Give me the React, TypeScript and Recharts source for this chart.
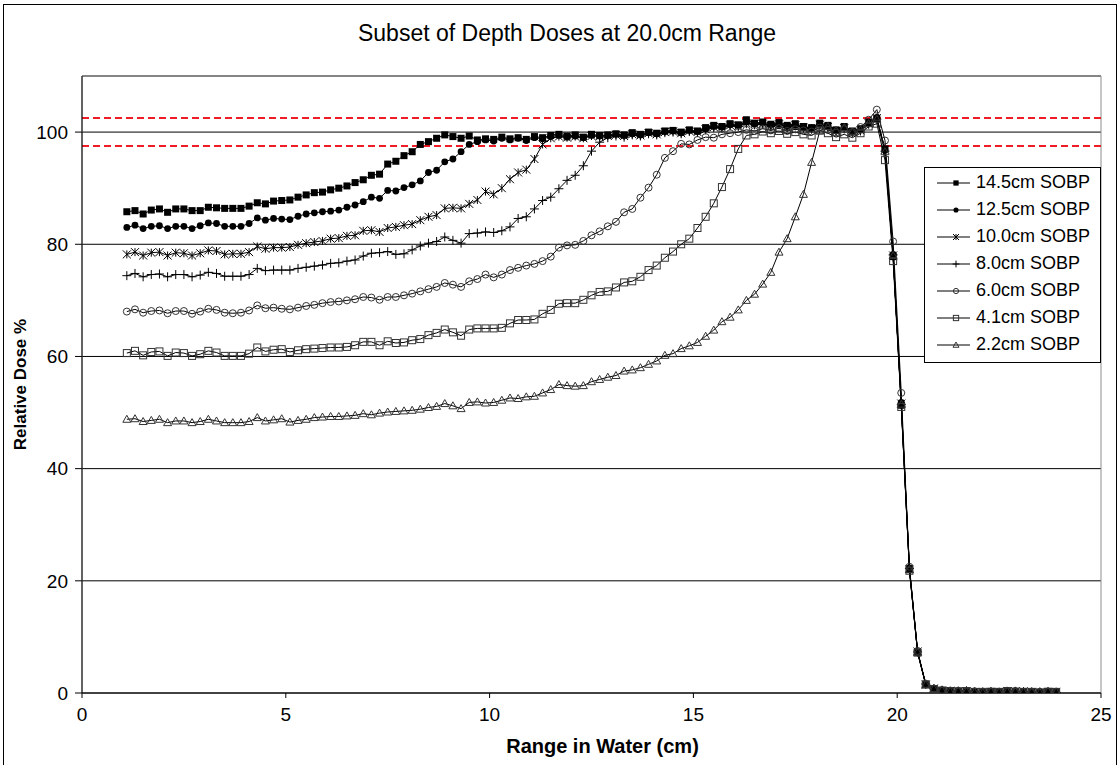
import React from 'react';
import { LineChart, Line, XAxis, YAxis, CartesianGrid, ReferenceLine, ReferenceArea } from 'recharts';

// depth in water (cm), shared by every curve
const depth = [
  1.1, 1.3, 1.5, 1.7, 1.9, 2.1, 2.3, 2.5, 2.7, 2.9,
  3.1, 3.3, 3.5, 3.7, 3.9, 4.1, 4.3, 4.5, 4.7, 4.9,
  5.1, 5.3, 5.5, 5.7, 5.9, 6.1, 6.3, 6.5, 6.7, 6.9,
  7.1, 7.3, 7.5, 7.7, 7.9, 8.1, 8.3, 8.5, 8.7, 8.9,
  9.1, 9.3, 9.5, 9.7, 9.9, 10.1, 10.3, 10.5, 10.7, 10.9,
  11.1, 11.3, 11.5, 11.7, 11.9, 12.1, 12.3, 12.5, 12.7, 12.9,
  13.1, 13.3, 13.5, 13.7, 13.9, 14.1, 14.3, 14.5, 14.7, 14.9,
  15.1, 15.3, 15.5, 15.7, 15.9, 16.1, 16.3, 16.5, 16.7, 16.9,
  17.1, 17.3, 17.5, 17.7, 17.9, 18.1, 18.3, 18.5, 18.7, 18.9,
  19.1, 19.3, 19.5, 19.7, 19.9, 20.1, 20.3, 20.5, 20.7, 20.9,
  21.1, 21.3, 21.5, 21.7, 21.9, 22.1, 22.3, 22.5, 22.7, 22.9,
  23.1, 23.3, 23.5, 23.7, 23.9,
];

const sobp145 = [
  85.8, 86.0, 85.4, 86.1, 86.3, 85.7, 86.3, 86.3, 86.0, 86.0,
  86.6, 86.5, 86.4, 86.4, 86.4, 86.8, 87.4, 87.2, 87.7, 87.8,
  87.9, 88.4, 88.8, 89.2, 89.3, 89.7, 90.0, 90.4, 91.0, 91.5,
  92.3, 92.5, 94.3, 94.8, 95.8, 96.5, 97.8, 98.3, 98.9, 99.5,
  99.2, 98.9, 99.3, 98.6, 98.8, 98.7, 99.1, 98.8, 99.0, 98.7,
  99.2, 99.0, 99.4, 99.6, 99.3, 99.5, 99.1, 99.6, 99.4, 99.5,
  99.7, 99.5, 99.9, 99.6, 100.0, 99.8, 100.2, 100.3, 100.0, 100.4,
  100.2, 100.8, 101.2, 101.0, 101.5, 101.3, 102.2, 101.6, 101.8, 101.4,
  101.7, 101.2, 101.5, 101.0, 100.8, 101.6, 101.2, 100.4, 101.0, 100.2,
  100.6, 101.8, 102.4, 97.0, 77.8, 51.3, 22.0, 7.3, 1.6, 0.8,
  0.5, 0.4, 0.3, 0.4, 0.2, 0.1, 0.3, 0.2, 0.4, 0.3,
  0.2, 0.2, 0.1, 0.3, 0.2,
];

const sobp125 = [
  83.0, 83.4, 82.8, 83.2, 83.3, 82.8, 83.2, 83.2, 82.8, 83.3,
  83.8, 83.7, 83.2, 83.2, 83.2, 83.7, 84.7, 84.3, 84.6, 84.5,
  84.4, 85.0, 85.4, 85.6, 85.8, 85.9, 86.1, 86.6, 87.0, 87.6,
  88.4, 88.2, 89.6, 89.5, 90.1, 90.6, 91.3, 92.8, 93.2, 94.7,
  95.2, 96.5, 97.8, 98.3, 98.6, 98.4, 98.9, 98.6, 98.9, 98.5,
  99.0, 98.8, 99.2, 99.4, 99.1, 99.3, 99.0, 99.4, 99.3, 99.4,
  99.6, 99.4, 99.7, 99.5, 99.9, 99.7, 100.1, 100.2, 99.9, 100.3,
  100.1, 100.6, 101.0, 100.9, 101.3, 101.2, 101.8, 101.5, 101.6, 101.2,
  101.5, 101.0, 101.3, 100.9, 100.7, 101.4, 101.0, 100.3, 100.8, 100.1,
  100.4, 101.6, 102.6, 96.8, 78.2, 51.8, 22.3, 7.2, 1.5, 0.7,
  0.5, 0.3, 0.4, 0.3, 0.2, 0.2, 0.3, 0.1, 0.3, 0.4,
  0.2, 0.1, 0.2, 0.3, 0.2,
];

const sobp100 = [
  78.2, 78.6, 78.0, 78.5, 78.6, 78.0, 78.5, 78.4, 78.0, 78.4,
  78.9, 78.8, 78.2, 78.3, 78.3, 78.6, 79.6, 79.2, 79.4, 79.4,
  79.5, 79.9, 80.2, 80.4, 80.6, 81.0, 81.1, 81.5, 81.6, 82.4,
  82.5, 82.2, 82.9, 83.1, 83.4, 83.6, 84.3, 84.9, 85.2, 86.4,
  86.5, 86.4, 87.2, 87.9, 89.4, 88.9, 90.0, 91.6, 92.8, 93.3,
  95.2, 97.8, 98.9, 99.2, 99.0, 99.2, 98.9, 99.3, 99.2, 99.3,
  99.5, 99.3, 99.6, 99.4, 99.8, 99.6, 100.0, 100.1, 99.8, 100.2,
  100.0, 100.5, 100.9, 100.8, 101.2, 101.1, 101.6, 101.4, 101.5, 101.1,
  101.4, 100.9, 101.2, 100.8, 100.6, 101.3, 100.9, 100.2, 100.7, 100.0,
  100.3, 101.5, 102.5, 96.9, 78.0, 51.6, 22.1, 7.4, 1.5, 0.8,
  0.4, 0.4, 0.3, 0.3, 0.2, 0.1, 0.2, 0.2, 0.3, 0.3,
  0.3, 0.2, 0.1, 0.2, 0.2,
];

const sobp80 = [
  74.4, 74.8, 74.2, 74.6, 74.7, 74.2, 74.6, 74.6, 74.2, 74.5,
  75.0, 74.8, 74.3, 74.3, 74.3, 74.6, 75.7, 75.3, 75.4, 75.4,
  75.4, 75.7, 75.9, 76.1, 76.3, 76.6, 76.7, 77.0, 77.2, 77.9,
  78.4, 78.5, 78.7, 78.2, 78.3, 79.0, 79.7, 80.2, 80.5, 81.3,
  80.7, 80.2, 81.9, 82.0, 82.2, 82.1, 82.4, 83.1, 84.6, 84.9,
  86.3, 87.8, 88.4, 89.9, 91.4, 92.3, 94.0, 96.6, 98.2, 99.0,
  99.3, 99.1, 99.5, 99.3, 99.7, 99.5, 99.9, 100.0, 99.7, 100.1,
  99.9, 100.4, 100.8, 100.7, 101.1, 101.0, 101.5, 101.3, 101.4, 101.0,
  101.3, 100.8, 101.1, 100.7, 100.5, 101.2, 100.8, 100.1, 100.6, 99.9,
  100.2, 101.4, 102.3, 96.6, 78.1, 51.4, 22.2, 7.3, 1.6, 0.7,
  0.5, 0.3, 0.3, 0.4, 0.2, 0.2, 0.2, 0.1, 0.3, 0.3,
  0.2, 0.2, 0.2, 0.2, 0.1,
];

const sobp60 = [
  68.0, 68.4, 67.8, 68.1, 68.2, 67.7, 68.1, 68.1, 67.6, 68.0,
  68.5, 68.3, 67.8, 67.7, 67.8, 68.2, 69.1, 68.6, 68.7, 68.5,
  68.4, 68.7, 69.0, 69.2, 69.5, 69.7, 69.8, 70.0, 70.2, 70.6,
  70.5, 70.1, 70.6, 70.6, 70.9, 71.2, 71.6, 72.0, 72.4, 73.1,
  72.8, 72.4, 73.4, 73.8, 74.6, 74.1, 74.6, 75.4, 75.8, 76.2,
  76.5, 77.0, 77.8, 79.4, 79.8, 79.9, 80.6, 81.6, 82.3, 83.2,
  84.0, 85.7, 86.3, 88.3, 90.1, 92.4, 95.4, 96.6, 97.9, 97.8,
  98.6, 99.1, 99.0, 99.6, 99.8, 100.0, 100.4, 100.2, 100.6, 100.3,
  100.7, 100.2, 100.5, 100.3, 100.1, 100.8, 100.4, 99.9, 100.5, 100.0,
  100.9, 102.2, 104.0, 98.5, 80.5, 53.5, 22.5, 7.5, 1.6, 0.8,
  0.5, 0.4, 0.3, 0.3, 0.3, 0.2, 0.2, 0.2, 0.3, 0.2,
  0.2, 0.1, 0.2, 0.2, 0.2,
];

const sobp41 = [
  60.6, 61.0, 60.2, 60.8, 60.9, 60.1, 60.7, 60.6, 60.1, 60.4,
  61.0, 60.7, 60.1, 60.1, 60.1, 60.5, 61.6, 60.9, 61.2, 61.3,
  60.8, 61.1, 61.3, 61.4, 61.5, 61.6, 61.6, 61.7, 62.0, 62.6,
  62.6, 62.0, 62.7, 62.4, 62.5, 62.9, 63.1, 63.8, 64.2, 64.8,
  64.3, 63.7, 64.8, 65.0, 65.0, 65.0, 65.1, 65.9, 66.5, 66.5,
  66.6, 67.6, 68.3, 69.4, 69.5, 69.5, 70.1, 70.9, 71.5, 71.6,
  72.3, 73.2, 73.4, 74.2, 75.4, 76.2, 77.6, 78.7, 80.0, 81.0,
  82.9, 84.9, 87.3, 90.2, 93.4, 97.0, 99.4, 99.6, 100.1, 99.8,
  100.2, 99.7, 100.0, 99.6, 99.4, 100.3, 99.8, 99.1, 99.6, 99.0,
  99.8, 101.0, 101.5, 95.0, 77.0, 51.0, 21.8, 7.2, 1.5, 0.7,
  0.4, 0.3, 0.3, 0.3, 0.2, 0.2, 0.2, 0.2, 0.3, 0.2,
  0.2, 0.2, 0.1, 0.2, 0.2,
];

const sobp22 = [
  48.8, 48.9, 48.4, 48.6, 48.8, 48.2, 48.5, 48.5, 48.2, 48.4,
  48.8, 48.5, 48.2, 48.2, 48.2, 48.4, 49.1, 48.5, 48.7, 48.9,
  48.3, 48.6, 48.8, 49.1, 49.2, 49.3, 49.3, 49.4, 49.5, 49.8,
  49.6, 49.9, 50.1, 50.2, 50.3, 50.4, 50.6, 50.9, 51.1, 51.6,
  51.2, 50.7, 51.8, 51.9, 51.7, 51.8, 52.2, 52.6, 52.5, 52.8,
  52.9, 53.5, 54.1, 55.0, 54.8, 54.7, 54.8, 55.5, 55.9, 56.3,
  56.6, 57.4, 57.6, 58.0, 58.6, 59.2, 60.2, 60.5, 61.4, 61.9,
  62.5, 63.6, 64.7, 66.2, 67.0, 68.3, 70.0, 71.1, 72.9, 75.0,
  78.6, 81.0, 84.9, 88.9, 94.6, 100.2, 101.0, 100.3, 100.8, 100.0,
  100.4, 101.5, 102.3, 96.5, 78.0, 51.5, 22.0, 7.3, 1.5, 0.8,
  0.5, 0.3, 0.4, 0.3, 0.2, 0.1, 0.3, 0.2, 0.3, 0.3,
  0.2, 0.2, 0.1, 0.3, 0.2,
];

const xTicks = [0, 5, 10, 15, 20, 25];
const yTicks = [0, 20, 40, 60, 80, 100];
const tolerance = [102.5, 97.5];

const series = [
  { key: 's145', name: '14.5cm SOBP', values: sobp145, marker: 'fsquare' },
  { key: 's125', name: '12.5cm SOBP', values: sobp125, marker: 'fcircle' },
  { key: 's100', name: '10.0cm SOBP', values: sobp100, marker: 'star' },
  { key: 's80', name: '8.0cm SOBP', values: sobp80, marker: 'plus' },
  { key: 's60', name: '6.0cm SOBP', values: sobp60, marker: 'ocircle' },
  { key: 's41', name: '4.1cm SOBP', values: sobp41, marker: 'osquare' },
  { key: 's22', name: '2.2cm SOBP', values: sobp22, marker: 'otriangle' },
];

const data = depth.map((x, i) => {
  const row: Record<string, number> = { x };
  series.forEach(s => { row[s.key] = s.values[i]; });
  return row;
});

const FONT = '"Liberation Sans", Arial, Helvetica, sans-serif';

const Marker = ({ type, cx, cy, k = 1 }: { type: string; cx?: number; cy?: number; k?: number }) => {
  if (cx == null || cy == null) return null;
  const open = '#333';
  switch (type) {
    case 'fsquare': {
      const s = 7 * k;
      return <rect x={cx - s / 2} y={cy - s / 2} width={s} height={s} fill="#000" />;
    }
    case 'fcircle':
      return <circle cx={cx} cy={cy} r={3.4 * k} fill="#000" />;
    case 'star': {
      const r = 4 * k;
      return (
        <g stroke="#000" strokeWidth={1}>
          <line x1={cx - r} y1={cy - r} x2={cx + r} y2={cy + r} />
          <line x1={cx - r} y1={cy + r} x2={cx + r} y2={cy - r} />
          <line x1={cx} y1={cy - r} x2={cx} y2={cy + r} />
        </g>
      );
    }
    case 'plus': {
      const r = 4.5 * k;
      return (
        <g stroke="#000" strokeWidth={1}>
          <line x1={cx - r} y1={cy} x2={cx + r} y2={cy} />
          <line x1={cx} y1={cy - r} x2={cx} y2={cy + r} />
        </g>
      );
    }
    case 'ocircle':
      return <circle cx={cx} cy={cy} r={3.5 * k} fill="none" stroke={open} strokeWidth={1} />;
    case 'osquare': {
      const s = 7 * k;
      return <rect x={cx - s / 2} y={cy - s / 2} width={s} height={s} fill="none" stroke={open} strokeWidth={1} />;
    }
    case 'otriangle': {
      const r = 4 * k;
      return (
        <polygon
          points={`${cx},${cy - r} ${cx + r},${cy + r * 0.75} ${cx - r},${cy + r * 0.75}`}
          fill="none"
          stroke={open}
          strokeWidth={1}
        />
      );
    }
    default:
      return null;
  }
};

const LegendBox = () => (
  <div
    style={{
      position: 'absolute',
      left: 924,
      top: 167,
      width: 177,
      height: 196,
      border: '1px solid #000',
      boxSizing: 'border-box',
      background: '#fff',
      paddingTop: 1,
    }}
  >
    {series.map(s => (
      <div key={s.key} style={{ height: 27, display: 'flex', alignItems: 'center' }}>
        <svg width={36} height={16} style={{ marginLeft: 12, flex: 'none' }}>
          <line x1={0} y1={8} x2={33} y2={8} stroke="#000" strokeWidth={1} />
          <Marker type={s.marker} cx={19} cy={8} k={0.75} />
        </svg>
        <span style={{ fontSize: 18, marginLeft: 3, color: '#000', whiteSpace: 'nowrap' }}>{s.name}</span>
      </div>
    ))}
  </div>
);

export default function App() {
  return (
    <div
      style={{
        position: 'absolute',
        left: 0,
        top: 0,
        width: 1120,
        height: 765,
        overflow: 'hidden',
        background: '#fff',
        fontFamily: FONT,
      }}
    >
      <div
        style={{
          position: 'absolute',
          left: 3,
          top: 4,
          width: 1114,
          height: 800,
          border: '1px solid #000',
          boxSizing: 'border-box',
        }}
      />
      <div
        style={{
          position: 'absolute',
          left: 0,
          top: 19,
          width: 1134,
          textAlign: 'center',
          fontSize: 23,
          lineHeight: '28px',
          color: '#000',
        }}
      >
        Subset of Depth Doses at 20.0cm Range
      </div>
      <div style={{ position: 'absolute', left: 0, top: 0 }}>
        <LineChart width={1120} height={765} data={data} margin={{ top: 76, right: 19, bottom: 0, left: 0 }}>
          <ReferenceArea x1={0} x2={25} y1={0} y2={110} fill="none" stroke="#8c8c8c" strokeWidth={1} />
          <CartesianGrid vertical={false} stroke="#000" strokeWidth={1} />
          <XAxis
            type="number"
            dataKey="x"
            domain={[0, 25]}
            ticks={xTicks}
            interval={0}
            height={72}
            tickSize={5}
            tickMargin={10}
            axisLine={{ stroke: '#000' }}
            tickLine={{ stroke: '#000' }}
            tick={{ fill: '#000', fontSize: 19, fontFamily: FONT }}
            label={{
              value: 'Range in Water (cm)',
              position: 'insideBottom',
              offset: 12,
              dx: 11,
              style: { fontWeight: 'bold', fontSize: 20, fill: '#000', fontFamily: FONT },
            }}
          />
          <YAxis
            type="number"
            domain={[0, 110]}
            ticks={yTicks}
            interval={0}
            width={82}
            tickSize={7}
            tickMargin={7}
            allowDataOverflow
            axisLine={{ stroke: '#000' }}
            tickLine={{ stroke: '#000' }}
            tick={{ fill: '#000', fontSize: 19, fontFamily: FONT }}
            label={{
              value: 'Relative Dose %',
              angle: -90,
              position: 'insideLeft',
              offset: 20,
              style: { textAnchor: 'middle', fontWeight: 'bold', fontSize: 17, fill: '#000', fontFamily: FONT },
            }}
          />
          {series.map(s => (
            <Line
              key={s.key}
              type="linear"
              dataKey={s.key}
              name={s.name}
              stroke="#000"
              strokeWidth={1}
              isAnimationActive={false}
              activeDot={false}
              dot={(p: any) => <Marker key={`${s.key}-${p.index}`} type={s.marker} cx={p.cx} cy={p.cy} />}
            />
          ))}
          {tolerance.map(v => (
            <ReferenceLine key={v} y={v} stroke="#ee1c25" strokeWidth={2} strokeDasharray="7 4" />
          ))}
        </LineChart>
      </div>
      <LegendBox />
    </div>
  );
}
